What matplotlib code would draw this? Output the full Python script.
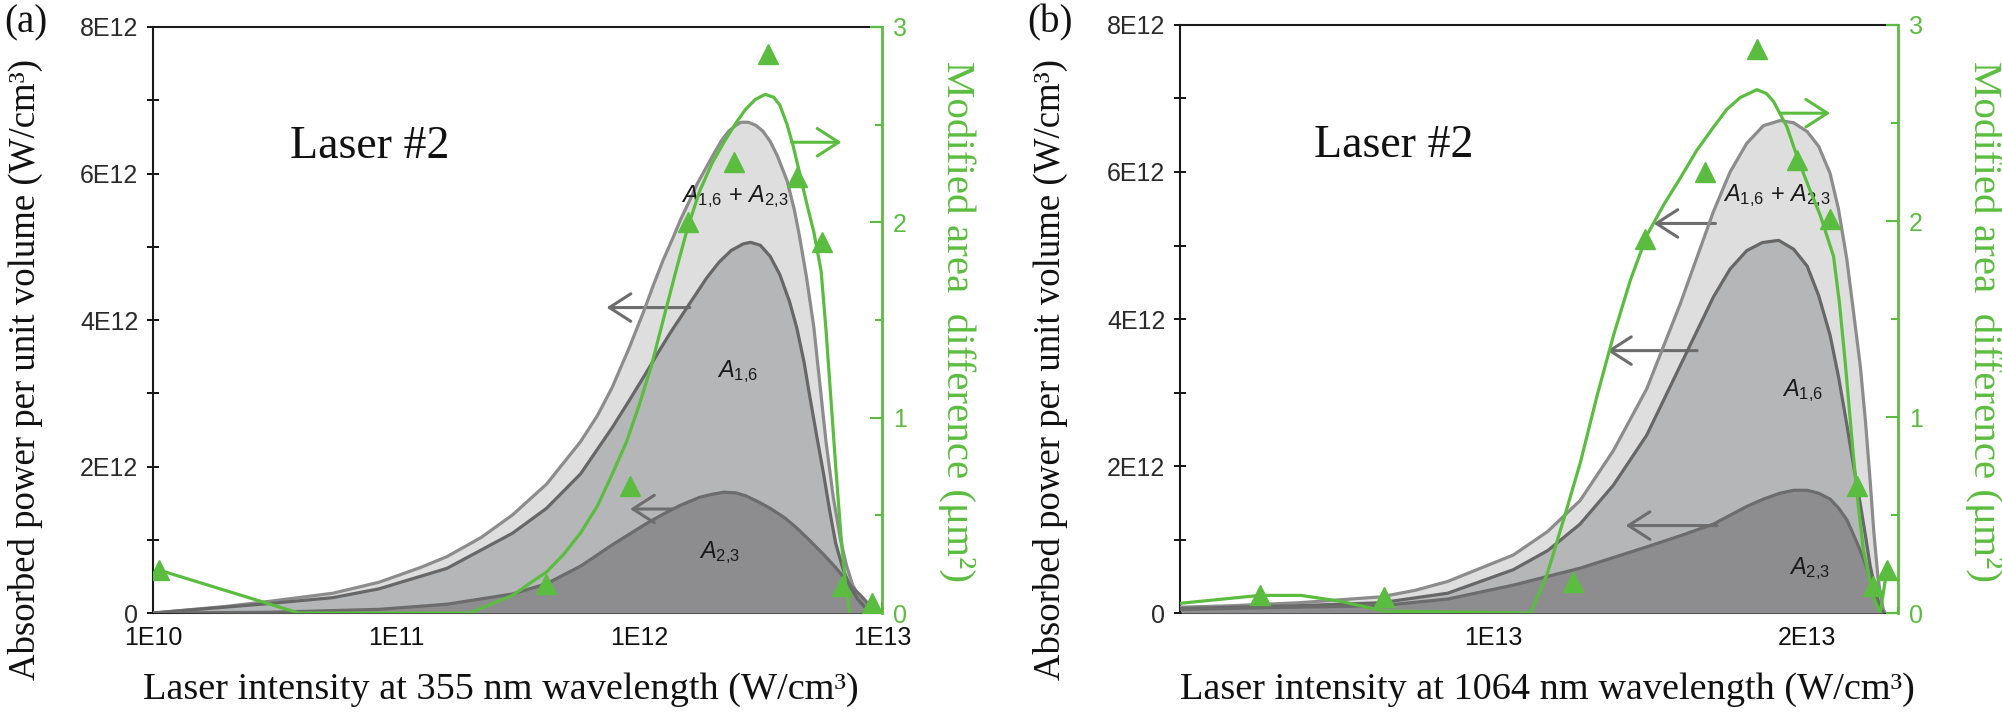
import matplotlib
matplotlib.use("Agg")
import matplotlib.pyplot as plt
from matplotlib.ticker import FixedLocator, FixedFormatter, LogLocator, NullFormatter

# Schriften: Serif fuer Beschriftungen, Sans fuer Zahlen und A-Labels
plt.rcParams["mathtext.fontset"] = "custom"
plt.rcParams["mathtext.rm"] = "Liberation Sans"
plt.rcParams["mathtext.it"] = "Liberation Sans:italic"

GRUEN = "#5bbd3f"
HELL = "#dedede"
MITTEL = "#b4b6b8"
DUNKEL = "#8d8d8f"

# Intensitaeten als Zehnerexponenten (log10 der Intensitaet in W/cm^3)
# Leistung in Einheiten von 1E12 W/cm^3, gruene Kurve in um^2

# ---------------- Daten Panel (a): 355 nm ----------------
a_exp_summe = [10.00, 10.30, 10.48, 10.74, 10.93, 11.10, 11.21, 11.35, 11.48, 11.62,
               11.76, 11.83, 11.89, 11.96, 12.02, 12.06, 12.10, 12.14, 12.17, 12.21,
               12.24, 12.28, 12.31, 12.34, 12.37, 12.40, 12.42, 12.45, 12.48, 12.51,
               12.54, 12.57, 12.61, 12.64, 12.66, 12.69, 12.72, 12.745, 12.77, 12.80,
               12.83, 12.855, 12.88, 12.91, 12.94, 12.97, 13.00]
a_summe = [0.00, 0.09, 0.16, 0.27, 0.42, 0.62, 0.77, 1.03, 1.34, 1.76,
           2.34, 2.70, 3.08, 3.62, 4.12, 4.48, 4.82, 5.12, 5.36, 5.64,
           5.86, 6.10, 6.28, 6.45, 6.58, 6.66, 6.70, 6.70, 6.66, 6.58,
           6.44, 6.24, 5.90, 5.50, 5.16, 4.58, 3.90, 3.12, 2.34, 1.58,
           1.00, 0.64, 0.38, 0.21, 0.10, 0.03, 0.00]

a_exp_16 = [10.00, 10.48, 10.74, 10.93, 11.21, 11.48, 11.62, 11.76, 11.89, 11.96,
            12.03, 12.08, 12.13, 12.18, 12.23, 12.28, 12.33, 12.38, 12.43, 12.46,
            12.50, 12.54, 12.58, 12.62, 12.65, 12.68, 12.70, 12.73, 12.76, 12.785,
            12.81, 12.84, 12.87, 12.90, 12.93, 12.96, 13.00]
a_16 = [0.00, 0.13, 0.21, 0.33, 0.61, 1.09, 1.43, 1.90, 2.53, 2.90,
        3.28, 3.56, 3.83, 4.08, 4.33, 4.58, 4.79, 4.95, 5.04, 5.06,
        5.02, 4.87, 4.62, 4.25, 3.89, 3.42, 3.02, 2.45, 1.90, 1.40,
        0.95, 0.60, 0.36, 0.19, 0.08, 0.02, 0.00]

a_exp_23 = [10.00, 10.48, 10.93, 11.21, 11.48, 11.62, 11.76, 11.89, 12.03, 12.10,
            12.17, 12.25, 12.30, 12.35, 12.40, 12.44, 12.49, 12.54, 12.60, 12.65,
            12.70, 12.76, 12.81, 12.85, 12.88, 12.91, 12.935, 12.95, 12.98, 13.00]
a_23 = [0.00, 0.01, 0.05, 0.12, 0.26, 0.40, 0.64, 0.93, 1.22, 1.35,
        1.47, 1.58, 1.62, 1.65, 1.64, 1.60, 1.52, 1.43, 1.30, 1.16,
        1.00, 0.80, 0.62, 0.46, 0.34, 0.25, 0.16, 0.09, 0.03, 0.00]

a_exp_gruen = [10.025, 10.60, 11.305, 11.40, 11.48, 11.56, 11.62, 11.69, 11.76, 11.83,
               11.89, 11.95, 12.00, 12.05, 12.10, 12.15, 12.20, 12.25, 12.30, 12.35,
               12.40, 12.44, 12.48, 12.52, 12.555, 12.58, 12.61, 12.635, 12.66, 12.69,
               12.72, 12.75, 12.77, 12.79, 12.81, 12.83, 12.85, 12.868]
a_gruen = [0.22, 0.00, 0.00, 0.05, 0.09, 0.16, 0.21, 0.30, 0.41, 0.55,
           0.71, 0.88, 1.06, 1.26, 1.50, 1.74, 1.97, 2.16, 2.30, 2.41,
           2.51, 2.58, 2.63, 2.655, 2.64, 2.60, 2.50, 2.39, 2.26, 2.10,
           1.95, 1.75, 1.45, 1.10, 0.75, 0.42, 0.15, 0.00]

a_exp_punkte = [10.025, 11.616, 11.963, 12.203, 12.391, 12.532, 12.651, 12.752, 12.834, 12.958]
a_punkte = [0.22, 0.15, 0.65, 2.00, 2.31, 2.86, 2.23, 1.90, 0.14, 0.05]

# ---------------- Daten Panel (b): 1064 nm ----------------
b_exp_summe = [12.700, 12.750, 12.813, 12.892, 12.925, 12.956, 13.019, 13.052, 13.083, 13.115,
               13.147, 13.179, 13.211, 13.227, 13.243, 13.259, 13.275, 13.288, 13.301, 13.312,
               13.323, 13.331, 13.339, 13.345, 13.352, 13.357, 13.3615, 13.365, 13.369, 13.372,
               13.374, 13.376]
b_summe = [0.08, 0.10, 0.14, 0.22, 0.31, 0.43, 0.79, 1.11, 1.53, 2.21,
           3.05, 4.20, 5.46, 6.00, 6.39, 6.63, 6.70, 6.67, 6.55, 6.35,
           5.98, 5.50, 4.82, 4.15, 3.36, 2.60, 1.79, 1.10, 0.48, 0.20,
           0.05, 0.00]

b_exp_16 = [12.700, 12.813, 12.892, 12.956, 13.019, 13.052, 13.083, 13.115, 13.147, 13.179,
            13.211, 13.227, 13.243, 13.258, 13.2736, 13.288, 13.301, 13.312, 13.323, 13.331,
            13.339, 13.345, 13.352, 13.357, 13.3615, 13.369, 13.374]
b_16 = [0.06, 0.10, 0.14, 0.27, 0.59, 0.85, 1.21, 1.74, 2.42, 3.36,
        4.30, 4.68, 4.93, 5.04, 5.07, 4.95, 4.72, 4.32, 3.78, 3.22,
        2.57, 2.05, 1.48, 1.05, 0.64, 0.17, 0.00]

b_exp_23 = [12.700, 12.813, 12.892, 12.956, 13.019, 13.083, 13.147, 13.179, 13.211, 13.243,
            13.259, 13.275, 13.288, 13.301, 13.312, 13.323, 13.331, 13.339, 13.345, 13.352,
            13.357, 13.3615, 13.369, 13.374]
b_23 = [0.05, 0.08, 0.10, 0.19, 0.38, 0.61, 0.90, 1.05, 1.21, 1.45,
        1.55, 1.63, 1.67, 1.67, 1.63, 1.55, 1.43, 1.27, 1.08, 0.85,
        0.66, 0.48, 0.17, 0.00]

b_exp_gruen = [12.700, 12.7755, 12.815, 12.853, 12.895, 13.0355, 13.0515, 13.0674, 13.0834, 13.0994,
               13.1153, 13.1314, 13.1474, 13.163, 13.1793, 13.195, 13.2112, 13.224, 13.2368, 13.2528,
               13.262, 13.2687, 13.2816, 13.2912, 13.302, 13.3135, 13.3263, 13.332, 13.3375, 13.3454,
               13.350, 13.355, 13.3646, 13.3711, 13.3775]
b_gruen = [0.05, 0.09, 0.09, 0.06, 0.01, 0.00, 0.20, 0.48, 0.77, 1.11,
           1.42, 1.70, 1.93, 2.08, 2.22, 2.36, 2.48, 2.57, 2.63, 2.67,
           2.65, 2.61, 2.48, 2.33, 2.18, 2.03, 1.82, 1.58, 1.28, 0.80,
           0.55, 0.32, 0.08, 0.00, 0.22]

b_exp_punkte = [12.7755, 12.8948, 13.0764, 13.1457, 13.2033, 13.2528, 13.2912, 13.3231, 13.3487, 13.364, 13.3775]
b_punkte = [0.09, 0.08, 0.157, 1.91, 2.25, 2.88, 2.31, 2.01, 0.65, 0.14, 0.22]

y_ticks = [0, 2, 4, 6, 8]
y_tick_labels = ["0", "2E12", "4E12", "6E12", "8E12"]


def zu_x(exponenten):
    return [10 ** e for e in exponenten]


def pfeil(ax, start, ende, farbe):
    ax.annotate("", xy=ende, xytext=start,
                arrowprops=dict(arrowstyle="->,head_length=0.7,head_width=0.45", color=farbe,
                                lw=2.2, mutation_scale=22, shrinkA=0, shrinkB=0))


def a_label(ax, x, y, text):
    ax.text(x, y, text, ha="center", va="center", fontsize=17,
            family="Liberation Sans", color="#1a1a1a", zorder=7)


# Zeichnet ein Panel mit Flaechen und gruener Kurve
def zeichne_panel(fig, rect, x_summe, summe, x16, w16, x23, w23, xg, g, xp, p):
    ax = fig.add_axes(rect)
    ax.set_xscale("log")
    ax.fill_between(x_summe, 0, summe, color=HELL, lw=0, zorder=1)
    ax.fill_between(x16, 0, w16, color=MITTEL, lw=0, zorder=2)
    ax.fill_between(x23, 0, w23, color=DUNKEL, lw=0, zorder=3)
    ax.plot(x_summe, summe, color="#8c8c8c", lw=2.3, zorder=4, solid_joinstyle="round")
    ax.plot(x16, w16, color="#676767", lw=2.3, zorder=4, solid_joinstyle="round")
    ax.plot(x23, w23, color="#6c6c6c", lw=2.3, zorder=4, solid_joinstyle="round")
    ax.set_ylim(0, 8)
    ax.yaxis.set_major_locator(FixedLocator(y_ticks))
    ax.yaxis.set_major_formatter(FixedFormatter(y_tick_labels))
    ax.yaxis.set_minor_locator(FixedLocator([1, 3, 5, 7]))
    ax.tick_params(axis="y", which="major", direction="inout", length=9, width=1.3, pad=6,
                   labelsize=18, labelcolor="#2a2a2a")
    ax.tick_params(axis="y", which="minor", direction="inout", length=9, width=1.3)
    ax.tick_params(axis="x", which="major", direction="in", length=8, width=1.4, pad=9,
                   labelsize=18, labelcolor="#111111")
    ax.tick_params(axis="x", which="minor", direction="in", length=4.5, width=1.2)
    for s in ["left", "bottom", "top"]:
        ax.spines[s].set_linewidth(1.5)
        ax.spines[s].set_color("#1a1a1a")
    ax.spines["right"].set_visible(False)
    for lab in ax.get_xticklabels() + ax.get_yticklabels():
        lab.set_fontfamily("Liberation Sans")

    ax2 = ax.twinx()
    ax2.plot(xg, g, color=GRUEN, lw=2.3, zorder=5, solid_joinstyle="round")
    ax2.plot(xp, p, linestyle="none", marker="^", ms=15, color=GRUEN, zorder=6)
    ax2.set_ylim(0, 3)
    ax2.yaxis.set_major_locator(FixedLocator([0, 1, 2, 3]))
    ax2.yaxis.set_minor_locator(FixedLocator([0.5, 1.5, 2.5]))
    ax2.tick_params(axis="y", which="major", direction="in", length=8.5, width=1.5, pad=8,
                    labelsize=18, colors=GRUEN)
    ax2.tick_params(axis="y", which="minor", direction="in", length=5, width=1.5, colors=GRUEN)
    for s in ["left", "bottom", "top"]:
        ax2.spines[s].set_visible(False)
    ax2.spines["right"].set_color(GRUEN)
    ax2.spines["right"].set_linewidth(2)
    for lab in ax2.get_yticklabels():
        lab.set_fontfamily("Liberation Sans")

    ax.text(0.297, 0.795, "Laser #2", transform=ax.transAxes, ha="center", va="center",
            fontsize=33, family="Liberation Serif", color="#111111")
    return ax, ax2


fig = plt.figure(figsize=(20.02, 7.18), dpi=100)

# Panel (a)
ax_a, ax_a2 = zeichne_panel(fig, [0.0764, 0.1462, 0.3641, 0.8162],
                            zu_x(a_exp_summe), a_summe, zu_x(a_exp_16), a_16, zu_x(a_exp_23), a_23,
                            zu_x(a_exp_gruen), a_gruen, zu_x(a_exp_punkte), a_punkte)
ax_a.set_xlim(1e10, 1e13)
ax_a.xaxis.set_major_locator(FixedLocator([1e10, 1e11, 1e12, 1e13]))
ax_a.xaxis.set_major_formatter(FixedFormatter(["1E10", "1E11", "1E12", "1E13"]))
ax_a.xaxis.set_minor_locator(LogLocator(base=10, subs=range(2, 10)))
ax_a.xaxis.set_minor_formatter(NullFormatter())
for lab in ax_a.get_xticklabels():
    lab.set_fontfamily("Liberation Sans")

pfeil(ax_a, (1.62e12, 4.17), (7.36e11, 4.17), "#6d6d6d")
pfeil(ax_a, (1.38e12, 1.42), (9.2e11, 1.42), "#6d6d6d")
pfeil(ax_a2, (4.25e12, 2.41), (6.82e12, 2.41), GRUEN)
a_label(ax_a, 2.48e12, 5.68, r"$A_{1{,}6}$ + $A_{2{,}3}$")
a_label(ax_a, 2.55e12, 3.29, r"$A_{1{,}6}$")
a_label(ax_a, 2.15e12, 0.82, r"$A_{2{,}3}$")

# Panel (b)
ax_b, ax_b2 = zeichne_panel(fig, [0.5894, 0.1462, 0.3587, 0.8190],
                            zu_x(b_exp_summe), b_summe, zu_x(b_exp_16), b_16, zu_x(b_exp_23), b_23,
                            zu_x(b_exp_gruen), b_gruen, zu_x(b_exp_punkte), b_punkte)
ax_b.set_xlim(5.0e12, 2.445e13)
ax_b.xaxis.set_major_locator(FixedLocator([1e13, 2e13]))
ax_b.xaxis.set_major_formatter(FixedFormatter(["1E13", "2E13"]))
ax_b.xaxis.set_minor_locator(FixedLocator([k * 1e13 / 9 for k in range(5, 23) if k not in (9, 18)]))
ax_b.xaxis.set_minor_formatter(NullFormatter())
for lab in ax_b.get_xticklabels():
    lab.set_fontfamily("Liberation Sans")

pfeil(ax_b, (1.633e13, 5.30), (1.424e13, 5.30), "#6d6d6d")
pfeil(ax_b, (1.568e13, 3.57), (1.285e13, 3.57), "#6d6d6d")
pfeil(ax_b, (1.638e13, 1.19), (1.339e13, 1.19), "#6d6d6d")
pfeil(ax_b2, (1.884e13, 2.55), (2.104e13, 2.55), GRUEN)
a_label(ax_b, 1.871e13, 5.68, r"$A_{1{,}6}$ + $A_{2{,}3}$")
a_label(ax_b, 1.98e13, 3.03, r"$A_{1{,}6}$")
a_label(ax_b, 2.01e13, 0.61, r"$A_{2{,}3}$")

# Achsenbeschriftungen und Panelbuchstaben
serif = "Liberation Serif"
for xpos in (0.0125, 0.5245):
    fig.text(xpos, 0.486, "Absorbed power per unit volume (W/cm³)", rotation=90, ha="center",
             va="center", fontsize=26.5, family=serif, color="#111111")
fig.text(0.250, 0.039, "Laser intensity at 355 nm wavelength (W/cm³)", ha="center", va="center",
         fontsize=27.5, family=serif, color="#111111")
fig.text(0.773, 0.039, "Laser intensity at 1064 nm wavelength (W/cm³)", ha="center", va="center",
         fontsize=27.5, family=serif, color="#111111")
for xpos in (0.478, 0.991):
    fig.text(xpos, 0.552, "Modified area  difference (μm²)", rotation=270, ha="center", va="center",
             fontsize=29.5, family=serif, color=GRUEN)
fig.text(0.013, 0.968, "(a)", ha="center", va="center", fontsize=28, family=serif, color="#111111")
fig.text(0.5245, 0.968, "(b)", ha="center", va="center", fontsize=28, family=serif, color="#111111")

fig.savefig("out.png", dpi=100)
